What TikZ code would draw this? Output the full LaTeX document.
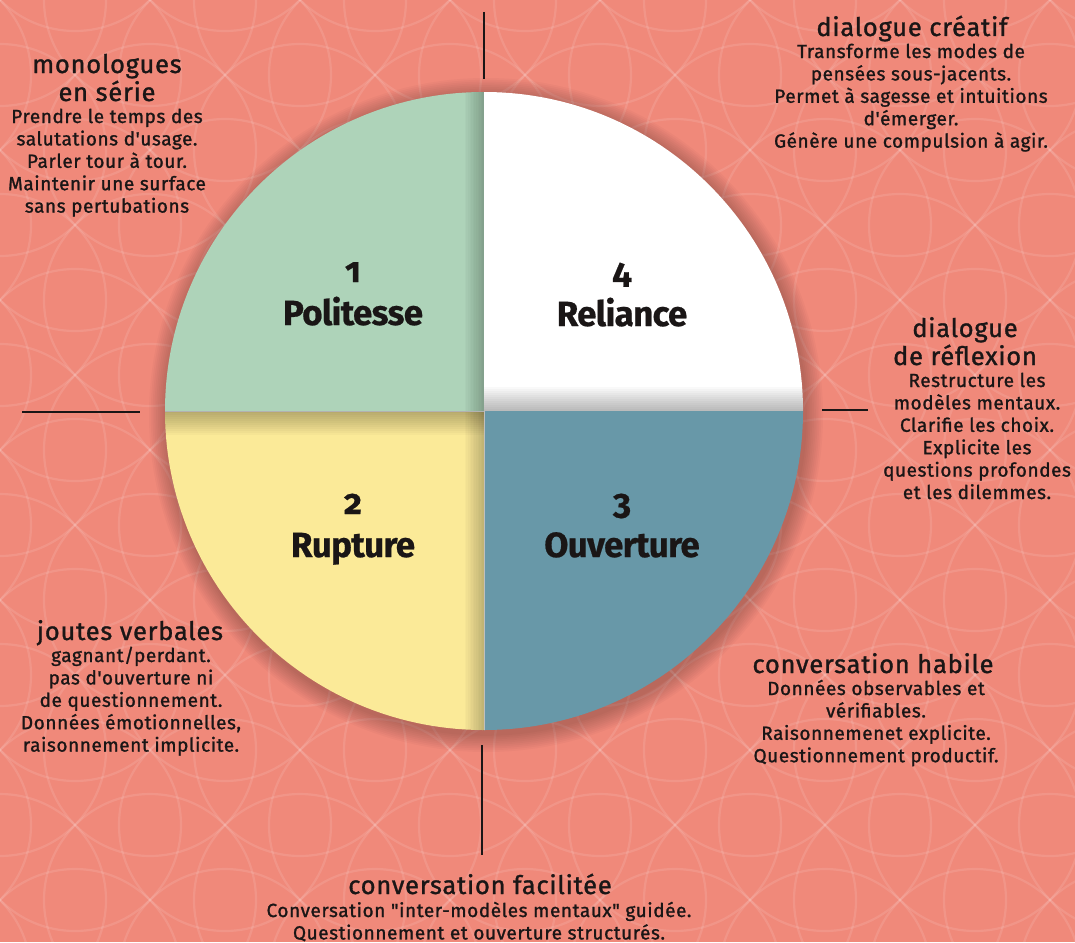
\documentclass[tikz,border=0pt]{standalone}
\usepackage{fontspec}
\setmainfont{Fira Sans}
\newfontface\headf{Fira Sans}[FakeBold=1.2,LetterSpace=3]
\newfontface\bodyf{Fira Sans}[FakeBold=1.2,LetterSpace=3]
\newfontface\quadf{Fira Sans Bold}[Numbers=OldStyle,LetterSpace=-2,FakeBold=0.6]
\definecolor{bgsalmon}{RGB}{240,137,122}
\definecolor{qgreen}{RGB}{174,211,185}
\definecolor{qyellow}{RGB}{251,234,152}
\definecolor{qteal}{RGB}{104,152,168}
\definecolor{ink}{RGB}{26,22,22}
\tikzset{
  head/.style={anchor=base, align=center, inner sep=0pt, text=ink, font=\headf\fontsize{25.5}{28}\selectfont},
  body/.style={anchor=base, align=center, inner sep=0pt, text=ink, font=\bodyf\fontsize{19}{22.4}\selectfont},
  quad/.style={anchor=base, align=center, inner sep=0pt, text=ink, font=\quadf\fontsize{35}{40}\selectfont},
  tick/.style={line width=2.6pt, draw=ink},
  patt/.style={draw=white, opacity=0.11, line width=2.2pt}
}
\begin{document}
\begin{tikzpicture}[x=1pt,y=-1pt]
\useasboundingbox (0,0) rectangle (1075,942);
\fill[bgsalmon] (0,0) rectangle (1075,942);
% background pattern
\begin{scope}
\clip (0,0) rectangle (1075,942);
\foreach \i in {-1,...,8} {
  \foreach \j in {-1,...,7} {
    \draw[patt] (\i*150,\j*150) circle (106);
    \draw[patt] (\i*150+75,\j*150+75) circle (106);
  }
}
\end{scope}
% circle shadow
\foreach \k in {1,...,10} {
  \fill[black,opacity=0.022] (486,415) circle ({319+\k*1.8});
}
% quadrants
\begin{scope}
\clip (484,411) circle (319);
\fill[qgreen] (160,411) rectangle (484,88);
\fill[white] (484,411) rectangle (808,88);
\fill[qyellow] (160,411) rectangle (484,735);
\fill[qteal] (484,411) rectangle (808,735);
% inner shadows
\foreach \k in {1,...,12} {
  \fill[black,opacity=0.022] (484,{411-2*\k}) rectangle (808,411);
  \fill[black,opacity=0.022] (160,411) rectangle (484,{411+2*\k});
  \fill[black,opacity=0.02] ({484-1.6*\k},88) rectangle (484,411);
  \fill[black,opacity=0.018] ({484-1.6*\k},411) rectangle (484,735);
}
\draw[black!30, line width=0.4pt] (160,411) -- (484,411);
\draw[black!25, line width=0.4pt] (484,411) -- (484,735);
\end{scope}
% ticks
\coordinate (tT1) at (484,12); \coordinate (tT2) at (484,79);
\coordinate (tL1) at (22,412); \coordinate (tL2) at (140,412);
\coordinate (tR1) at (822,410); \coordinate (tR2) at (868,410);
\coordinate (tB1) at (482,745); \coordinate (tB2) at (482,855);
\draw[tick] (tT1) -- (tT2);
\draw[tick] (tL1) -- (tL2);
\draw[tick] (tR1) -- (tR2);
\draw[tick] (tB1) -- (tB2);
% quadrant labels
\node[quad] (q1n) at (353,282) {1};
\node[quad] (q1) at (353,325) {Politesse};
\node[quad] (q4n) at (622,283) {4};
\node[quad] (q4) at (622,326) {Reliance};
\node[quad] (q2n) at (353,514) {2};
\node[quad] (q2) at (353,557) {Rupture};
\node[quad] (q3n) at (622,514) {3};
\node[quad] (q3) at (622,557) {Ouverture};
% outer texts (base = baseline of last line)
\node[head] (h1) at (107,101) {monologues\\en série};
\node[body] (b1) at (107,212.6) {Prendre le temps des\\salutations d'usage.\\Parler tour à tour.\\Maintenir une surface\\sans pertubations};
\node[head] (h4) at (912,36) {dialogue créatif};
\node[body] (b4) at (911,147.6) {Transforme les modes de\\pensées sous-jacents.\\Permet à sagesse et intuitions\\d'émerger.\\Génère une compulsion à agir.};
\node[head] (h5) at (965,365) {dialogue\\de réflexion};
\node[body] (b5) at (977,499) {Restructure les\\modèles mentaux.\\Clarifie les choix.\\Explicite les\\questions profondes\\et les dilemmes.};
\node[head] (h2) at (130,640) {joutes verbales};
\node[body] (b2) at (131,751.6) {gagnant/perdant.\\pas d'ouverture ni\\de questionnement.\\Données émotionnelles,\\raisonnement implicite.};
\node[head] (h3) at (873,673) {conversation habile};
\node[body] (b3) at (876,762.2) {Données observables et\\vérifiables.\\Raisonnemenet explicite.\\Questionnement productif.};
\node[head] (h6) at (480,894) {conversation facilitée};
\node[body] (b6) at (479,939.4) {Conversation "inter-modèles mentaux" guidée.\\Questionnement et ouverture structurés.};
\end{tikzpicture}
\end{document}
